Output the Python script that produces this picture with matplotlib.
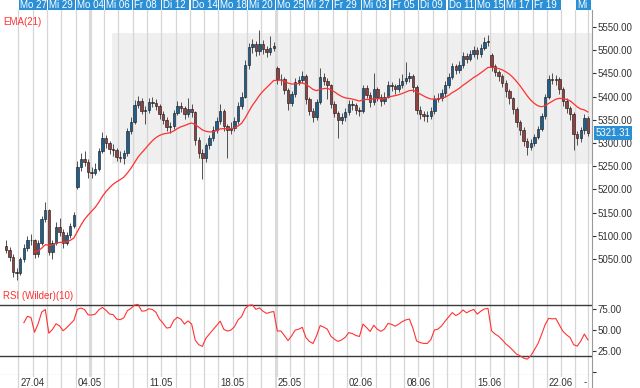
import numpy as np
import pandas as pd
import matplotlib.pyplot as plt
import matplotlib.transforms as mtransforms
from matplotlib.patches import Rectangle

plt.rcParams['font.family'] = ['Liberation Sans', 'DejaVu Sans']

# intraday bars, 4 per trading day, starting one day before Mo 27
close = [5070, 5055, 5022, 5020, 5049, 5074, 5092, 5090, 5061, 5084,
         5137, 5155, 5066, 5085, 5119, 5109, 5085, 5101, 5121, 5144,
         5248, 5265, 5259, 5237, 5236, 5244, 5283, 5310, 5300, 5287,
         5285, 5270, 5268, 5278, 5326, 5346, 5382, 5390, 5370, 5372,
         5389, 5387, 5380, 5362, 5350, 5335, 5337, 5365, 5380, 5375,
         5362, 5374, 5366, 5306, 5279, 5268, 5295, 5311, 5329, 5348,
         5369, 5337, 5329, 5333, 5347, 5380, 5400, 5468, 5506, 5513,
         5498, 5514, 5503, 5496, 5505, 5510, 5438, 5438, 5415, 5386,
         5405, 5431, 5436, 5444, 5395, 5370, 5356, 5388, 5442, 5434,
         5424, 5385, 5365, 5350, 5356, 5366, 5385, 5381, 5372, 5368,
         5418, 5404, 5388, 5416, 5400, 5391, 5400, 5425, 5422, 5416,
         5424, 5434, 5441, 5444, 5420, 5372, 5363, 5359, 5359, 5368,
         5395, 5398, 5408, 5425, 5443, 5465, 5458, 5468, 5488, 5482,
         5492, 5500, 5491, 5505, 5517, 5520, 5465, 5453, 5444, 5430,
         5411, 5396, 5373, 5345, 5329, 5305, 5292, 5300, 5314, 5330,
         5358, 5400, 5438, 5436, 5438, 5416, 5391, 5375, 5362, 5320,
         5310, 5327, 5353, 5321.31]
high = [5090, 5075, 5060, 5030, 5055, 5082, 5100, 5104, 5094, 5090,
        5142, 5172, 5158, 5092, 5130, 5138, 5114, 5108, 5128, 5152,
        5262, 5278, 5282, 5266, 5248, 5256, 5290, 5324, 5318, 5305,
        5298, 5290, 5282, 5284, 5332, 5355, 5392, 5402, 5396, 5380,
        5398, 5400, 5394, 5385, 5368, 5356, 5346, 5372, 5390, 5388,
        5380, 5396, 5385, 5370, 5312, 5286, 5300, 5318, 5336, 5355,
        5385, 5374, 5342, 5345, 5356, 5388, 5410, 5478, 5516, 5524,
        5520, 5543, 5522, 5510, 5530, 5518, 5466, 5448, 5442, 5418,
        5412, 5440, 5444, 5455, 5448, 5400, 5375, 5395, 5461, 5450,
        5440, 5428, 5390, 5370, 5364, 5375, 5392, 5392, 5386, 5378,
        5426, 5424, 5410, 5450, 5420, 5406, 5410, 5434, 5432, 5428,
        5440, 5448, 5475, 5452, 5448, 5424, 5380, 5370, 5368, 5378,
        5404, 5408, 5416, 5434, 5450, 5472, 5470, 5476, 5496, 5494,
        5500, 5510, 5506, 5514, 5528, 5532, 5494, 5470, 5458, 5448,
        5436, 5416, 5400, 5378, 5350, 5334, 5310, 5308, 5320, 5336,
        5364, 5406, 5446, 5450, 5446, 5442, 5420, 5396, 5380, 5366,
        5326, 5334, 5362, 5358]
low = [5062, 5045, 5012, 5005, 5015, 5044, 5068, 5080, 5052, 5055,
       5080, 5130, 5058, 5050, 5080, 5100, 5074, 5080, 5096, 5116,
       5200, 5240, 5250, 5224, 5225, 5230, 5240, 5278, 5290, 5276,
       5272, 5262, 5258, 5255, 5272, 5320, 5340, 5375, 5362, 5340,
       5365, 5378, 5372, 5352, 5340, 5325, 5322, 5330, 5360, 5366,
       5352, 5356, 5355, 5296, 5268, 5222, 5260, 5288, 5305, 5322,
       5342, 5326, 5268, 5320, 5326, 5342, 5374, 5396, 5460, 5495,
       5488, 5490, 5492, 5486, 5490, 5498, 5428, 5425, 5405, 5372,
       5380, 5400, 5425, 5430, 5385, 5360, 5345, 5350, 5384, 5425,
       5395, 5376, 5356, 5311, 5342, 5348, 5360, 5372, 5362, 5358,
       5364, 5396, 5378, 5382, 5390, 5380, 5384, 5396, 5412, 5406,
       5410, 5418, 5428, 5432, 5410, 5362, 5352, 5348, 5346, 5352,
       5362, 5388, 5390, 5400, 5418, 5438, 5448, 5450, 5462, 5472,
       5476, 5486, 5482, 5486, 5500, 5510, 5455, 5444, 5434, 5420,
       5400, 5385, 5362, 5335, 5318, 5294, 5274, 5284, 5294, 5308,
       5325, 5352, 5395, 5428, 5426, 5406, 5380, 5365, 5350, 5285,
       5295, 5302, 5320, 5315]
session_open = {0: 5078, 20: 5205, 76: 5462, 136: 5490}

bars_per_day = 4
first_day = -1

header_labels = ['Mo 27', 'Mi 29', 'Mo 04', 'Mi 06', 'Fr 08', 'Di 12', 'Do 14',
                 'Mo 18', 'Mi 20', 'Mo 25', 'Mi 27', 'Fr 29', 'Mi 03', 'Fr 05',
                 'Di 09', 'Do 11', 'Mo 15', 'Mi 17', 'Fr 19', 'Mi']
header_days = [0, 2, 4, 6, 8, 10, 12, 14, 16, 18, 20, 22, 24, 26, 28, 30, 32, 34, 36, 39]
date_labels = ['27.04', '04.05', '11.05', '18.05', '25.05', '02.06', '08.06', '15.06', '22.06', '-']
date_days = [1, 5, 10, 15, 19, 24, 28, 33, 38, 39.7]
grid_days = list(range(0, 40)) + [39.85]
thick_days = [5, 18]
band_start, band_low, band_high = 6.55, 5255, 5537

price_ticks = np.arange(5050, 5551, 50)
rsi_ticks = [25, 50, 75]
rsi_levels = [20, 80]

# ---- derived series
opens = []
prev = None
for i, c in enumerate(close):
    opens.append(session_open.get(i, prev))
    prev = c
o = np.array(opens, float)
c = np.array(close, float)
h = np.array(high, float)
l = np.array(low, float)
n = len(c)
x = first_day + (np.arange(n) + 0.5) / bars_per_day

ema = pd.Series(c).ewm(span=21, adjust=False).mean().values

# RSI (Wilder smoothing, period 10)
delta = pd.Series(c).diff()
gain = delta.clip(lower=0)
loss = (-delta).clip(lower=0)
ag = gain.ewm(alpha=1 / 10, adjust=True).mean()
al = loss.ewm(alpha=1 / 10, adjust=True).mean()
rsi = (100 - 100 / (1 + ag / al)).values

# ---- layout
W, H = 640, 388
def rect(x0, y0, x1, y1):
    return [x0 / W, 1 - y1 / H, (x1 - x0) / W, (y1 - y0) / H]

fig = plt.figure(figsize=(6.4, 3.88), dpi=100)
ax_head = fig.add_axes(rect(0, 0, 592, 10))
ax = fig.add_axes(rect(0, 10, 592, 287))
ax_rsi = fig.add_axes(rect(0, 287, 592, 375))
ax_lab = fig.add_axes(rect(0, 375, 592, 388))

xlim = (-1.295, 40.16)
for a in (ax_head, ax, ax_rsi, ax_lab):
    a.set_xlim(*xlim)
    a.set_xticks([])

grid_col = '#d6d6d6'
blue = '#2b8fd6'

# header
ax_head.set_ylim(0, 1)
ax_head.axis('off')
for lab, k in zip(header_labels, header_days):
    w = 2 if lab != 'Mi' else 1.1
    ax_head.add_patch(Rectangle((k + 0.05, 0), w - 0.08, 1, fc=blue, ec='none'))
    ax_head.text(k + 0.12, 0.45, lab, color='white', fontsize=7, va='center', ha='left')

# main price panel
ax.set_ylim(4989.7, 5586.6)
ax.add_patch(Rectangle((band_start, band_low), xlim[1] - band_start, band_high - band_low,
                       fc='#efefef', ec='none', zorder=0))
for k in grid_days:
    for a in (ax, ax_rsi, ax_lab):
        a.axvline(k, color=grid_col, lw=0.9, zorder=1)
for k in thick_days:
    for a in (ax, ax_rsi, ax_lab):
        a.axvline(k, color='#dadada', lw=2.2, zorder=1)

up = c >= o
bottom = np.minimum(o, c)
height = np.maximum(np.abs(c - o), 0.8)
ax.vlines(x, l, h, color='#505050', lw=0.7, zorder=3)
ax.bar(x[up], height[up], 0.17, bottom[up], color='#1d5f8e', edgecolor='#111111', lw=0.4, zorder=4)
ax.bar(x[~up], height[~up], 0.17, bottom[~up], color='#93423f', edgecolor='#111111', lw=0.4, zorder=4)
ax.plot(x[8:], ema[8:], color='#ff3030', lw=0.9, zorder=5)

ax.yaxis.tick_right()
ax.set_yticks(price_ticks)
ax.set_yticklabels(['%.2f' % v for v in price_ticks])
ax.tick_params(axis='y', labelsize=7, colors='#333333', length=3, pad=1, width=0.8)
for s in ('left', 'top'):
    ax.spines[s].set_visible(False)
ax.spines['right'].set_color('#999999')
ax.spines['bottom'].set_color('#dddddd')
ax.text(0.005, 0.955, 'EMA(21)', transform=ax.transAxes, color='#ff3030', fontsize=7, va='center')

tr = mtransforms.blended_transform_factory(ax.transAxes, ax.transData)
ax.text(1.006, c[-1], '%.2f' % c[-1], transform=tr, color='white', fontsize=7, va='center',
        ha='left', bbox=dict(fc=blue, ec='none', pad=1.2), zorder=10, clip_on=False)

# RSI panel
ax_rsi.set_ylim(-3, 101.4)
for lv in rsi_levels:
    ax_rsi.axhline(lv, color='#3a3a3a', lw=1.0, zorder=2)
ax_rsi.plot(x[5:], rsi[5:], color='#ff3333', lw=0.8, zorder=5)
ax_rsi.yaxis.tick_right()
ax_rsi.set_yticks([0] + rsi_ticks)
ax_rsi.set_yticklabels([''] + ['%.2f' % v for v in rsi_ticks])
ax_rsi.tick_params(axis='y', labelsize=7, colors='#333333', length=3, pad=1, width=0.8)
for s in ('left', 'top'):
    ax_rsi.spines[s].set_visible(False)
ax_rsi.spines['right'].set_color('#999999')
ax_rsi.spines['bottom'].set_color('#999999')
ax_rsi.text(0.005, 0.9, 'RSI (Wilder)(10)', transform=ax_rsi.transAxes, color='#ff3030',
            fontsize=7, va='center')

# date row
ax_lab.set_ylim(0, 1)
ax_lab.set_yticks([])
for s in ('left', 'top', 'bottom'):
    ax_lab.spines[s].set_visible(False)
ax_lab.spines['right'].set_color('#999999')
for lab, k in zip(date_labels, date_days):
    ax_lab.text(k, 0.42, lab, ha='center', va='center', fontsize=7, color='#333333',
                bbox=dict(fc='white', ec='none', pad=0.3))

fig.savefig('out.png', dpi=100)
